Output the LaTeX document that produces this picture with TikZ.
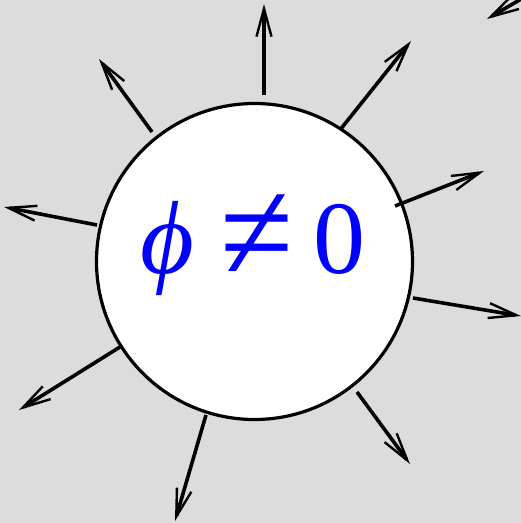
\documentclass[tikz,border=0pt]{standalone}
\usepackage{fontspec}
\setmainfont{Liberation Serif}
\usetikzlibrary{arrows.meta}
\definecolor{bg}{HTML}{DCDCDC}
\tikzset{
  ray/.style={line width=3.6pt, -{Straight Barb[length=28pt,width=15pt,line width=2.4pt]}},
  lbltext/.style={text=blue, font=\fontsize{104}{104}\selectfont, inner sep=0pt, anchor=base},
}
\begin{document}
\begin{tikzpicture}[x=1pt,y=-1pt]
\useasboundingbox (0,0) rectangle (521,523);
\fill[bg] (0,0) rectangle (521,523);
\clip (0,0) rectangle (521,523);
\node[circle, draw=black, line width=3.2pt, fill=white, minimum size=316pt, inner sep=0pt] (ball) at (254.5,261.5) {};
\node[lbltext] (lbl) at (253,273) {\textit{ϕ}\hspace{26pt}\raisebox{-8pt}{\scalebox{1.28}[1.4]{≠}}\hspace{20pt}0};
\coordinate (s1) at (264,95);  \coordinate (e1) at (264,4);
\coordinate (s2) at (340,130); \coordinate (e2) at (411,41);
\coordinate (s3) at (395,206); \coordinate (e3) at (484,171);
\coordinate (s4) at (413,298); \coordinate (e4) at (521,316);
\coordinate (s5) at (357,392); \coordinate (e5) at (410,464);
\coordinate (s6) at (206,415); \coordinate (e6) at (175,521);
\coordinate (s7) at (120,347); \coordinate (e7) at (19,410);
\coordinate (s8) at (97,225);  \coordinate (e8) at (4,207);
\coordinate (s9) at (152,132); \coordinate (e9) at (99,59);
\coordinate (s10) at (540,-12); \coordinate (e10) at (487,19);
\foreach \i in {1,...,10} \draw[ray] (s\i) -- (e\i);
\end{tikzpicture}
\end{document}
